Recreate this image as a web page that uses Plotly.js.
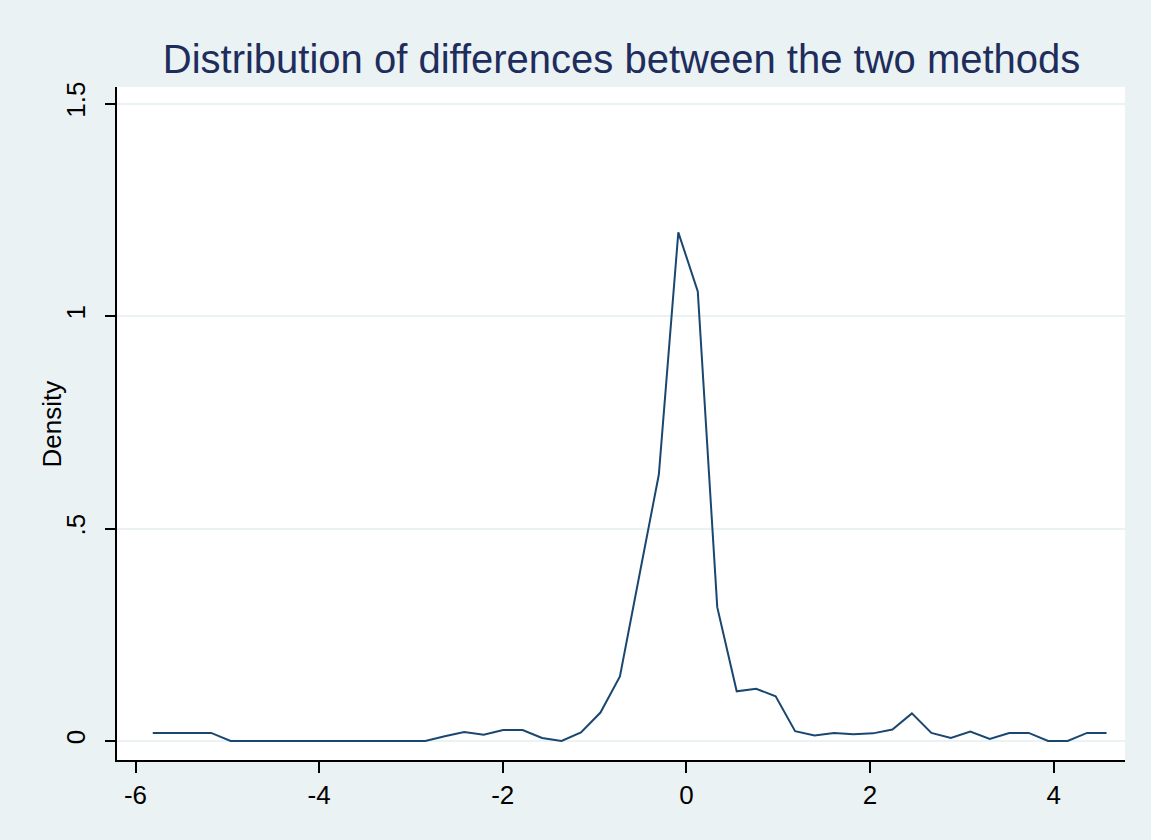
<!DOCTYPE html>
<html>
<head>
<meta charset="utf-8">
<script src="https://cdn.plot.ly/plotly-3.0.1.min.js"></script>
<style>html,body{margin:0;padding:0;background:#eaf2f3;}#chart{width:1151px;height:840px;}</style>
</head>
<body>
<div id="chart"></div>
<script>
// kernel density evaluation points (difference between methods)
const diffPoints = [-5.812,-5.600,-5.388,-5.176,-4.964,-4.752,-4.540,-4.328,-4.116,-3.904,
  -3.692,-3.480,-3.268,-3.056,-2.844,-2.632,-2.420,-2.208,-1.996,-1.784,
  -1.572,-1.360,-1.148,-0.936,-0.724,-0.512,-0.300,-0.088,0.124,0.336,
  0.548,0.760,0.972,1.184,1.396,1.608,1.820,2.032,2.244,2.456,
  2.668,2.880,3.092,3.304,3.516,3.728,3.940,4.152,4.364,4.576];
const densityValues = [0.019,0.019,0.019,0.019,0,0,0,0,0,0,
  0,0,0,0,0,0.011,0.021,0.015,0.026,0.026,
  0.007,0,0.020,0.067,0.152,0.390,0.627,1.197,1.058,0.315,
  0.117,0.123,0.105,0.023,0.013,0.019,0.016,0.018,0.027,0.065,
  0.019,0.007,0.022,0.005,0.019,0.019,0,0,0.019,0.019];
const xTickVals = [-6,-4,-2,0,2,4];
const xTickText = ['-6','-4','-2','0','2','4'];
const yTickVals = [0,0.5,1,1.5];
const yTickText = ['0','.5','1','1.5'];
const yTitleText = 'Density';

const FONT = 'Liberation Sans, Arial, sans-serif';
const trace = {
  x: diffPoints, y: densityValues, type: 'scatter', mode: 'lines',
  line: {color: '#1a476f', width: 2}, hoverinfo: 'x+y'
};
const layout = {
  width: 1151, height: 840,
  font: {family: FONT, size: 26, color: '#000'},
  paper_bgcolor: '#eaf2f3', plot_bgcolor: '#ffffff',
  margin: {l: 117, r: 26, t: 87, b: 80},
  showlegend: false,
  title: {text: 'Distribution of differences between the two methods',
    font: {family: FONT, size: 40, color: '#1e2d5c'},
    x: 0.54, xanchor: 'center', y: 0.93, yanchor: 'middle'},
  xaxis: {range: [-6.2015, 4.777], tickvals: xTickVals, ticktext: xTickText,
    showgrid: false, zeroline: false, showline: true, linecolor: '#000', linewidth: 2,
    ticks: 'outside', ticklen: 11, tickwidth: 2, tickcolor: '#000',
    tickfont: {family: FONT, size: 26, color: '#000'}},
  yaxis: {range: [-0.0447, 1.539], tickvals: yTickVals, ticktext: yTickText,
    showgrid: true, gridcolor: '#eaf2f3', gridwidth: 2, zeroline: false,
    showline: true, linecolor: '#000', linewidth: 2,
    ticks: 'outside', ticklen: 10, tickwidth: 2, tickcolor: '#000', tickangle: -90,
    tickfont: {family: FONT, size: 26, color: '#000'},
    ticklabelstandoff: 10},
  annotations: [{text: yTitleText, xref: 'paper', yref: 'paper', x: -0.0645, y: 0.5,
    xanchor: 'center', yanchor: 'middle', textangle: -90, showarrow: false,
    font: {family: FONT, size: 26, color: '#000'}}]
};
Plotly.newPlot('chart', [trace], layout, {displayModeBar: false, staticPlot: true});
</script>
</body>
</html>
